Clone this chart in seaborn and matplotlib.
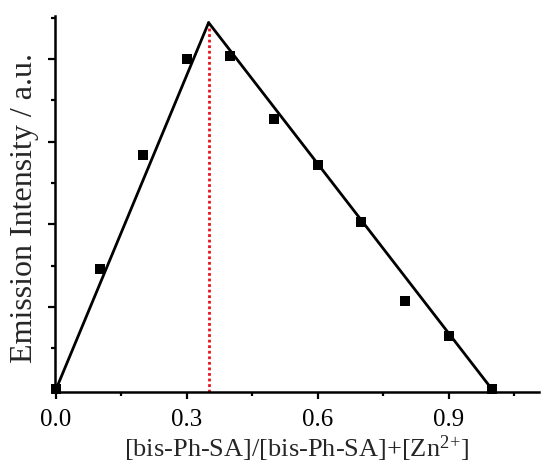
# Job-Plot: Emissionsintensität gegen Molenbruch
import matplotlib
matplotlib.use("Agg")
import matplotlib.pyplot as plt
import pandas as pd
import seaborn as sns
from matplotlib.ticker import MultipleLocator

# Messpunkte
mole_fraction = [0.0, 0.1, 0.2, 0.3, 0.4, 0.5, 0.6, 0.7, 0.8, 0.9, 1.0]
intensity = [0.01, 1.46, 2.84, 4.00, 4.04, 3.28, 2.72, 2.03, 1.07, 0.65, 0.01]

# Ausgleichsgeraden (Endpunkte)
fit_left_x = [0.0, 0.35]
fit_left_y = [0.0, 4.44]
fit_right_x = [0.35, 1.0]
fit_right_y = [4.44, 0.0]

# Schnittpunkt
peak_x = 0.35
peak_y = 4.44

x_ticks = [0.0, 0.3, 0.6, 0.9]

sns.set_theme(style="ticks")
plt.rcParams['font.family'] = ['Liberation Serif', 'DejaVu Serif']
plt.rcParams['mathtext.fontset'] = 'custom'
plt.rcParams['mathtext.rm'] = 'Liberation Serif'
plt.rcParams['mathtext.it'] = 'Liberation Serif:italic'

fig = plt.figure(figsize=(5.5, 4.75), dpi=100)
ax = fig.add_axes([0.1, 0.1747, 0.88, 0.7916])

df = pd.DataFrame({"x": mole_fraction, "y": intensity})

sns.lineplot(x=fit_left_x, y=fit_left_y, ax=ax, color="black", linewidth=2.0, clip_on=False)
sns.lineplot(x=fit_right_x, y=fit_right_y, ax=ax, color="black", linewidth=2.0, clip_on=False)
ax.plot([peak_x, peak_x], [-0.03, peak_y], color="#e8141a", linestyle=(0, (1, 1)), linewidth=2.0, zorder=1)
sns.scatterplot(data=df, x="x", y="y", ax=ax, marker="s", s=44, color="black",
                edgecolor="black", linewidth=0, zorder=3, clip_on=False)

ax.set_xlim(-0.002, 1.107)
ax.set_ylim(-0.028, 4.52)
ax.set_xticks(x_ticks)
ax.set_xticklabels([f"{t:.1f}" for t in x_ticks])
ax.xaxis.set_minor_locator(MultipleLocator(0.15))
ax.set_yticks([1, 2, 3, 4])
ax.set_yticklabels([])
ax.yaxis.set_minor_locator(MultipleLocator(0.5))

for s in ["top", "right"]:
    ax.spines[s].set_visible(False)
for s in ["left", "bottom"]:
    ax.spines[s].set_linewidth(1.8)
    ax.spines[s].set_color("black")

ax.tick_params(which="major", direction="out", length=5, width=1.6, colors="black", labelsize=18, pad=7)
ax.tick_params(which="minor", direction="out", length=3, width=1.6, colors="black")

ax.set_xlabel(r"[bis-Ph-SA]/[bis-Ph-SA]+[Zn$^{2}$$^{+}$]", fontsize=19, labelpad=2)
ax.set_ylabel("Emission Intensity / a.u.", fontsize=23, va="center")
ax.yaxis.set_label_coords(-0.064, 0.489)

fig.savefig("out.png", dpi=100)
